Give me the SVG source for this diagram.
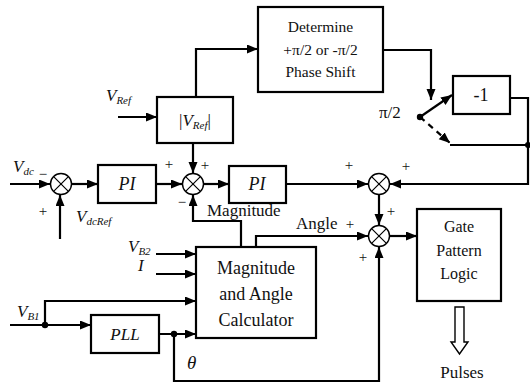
<svg xmlns="http://www.w3.org/2000/svg" width="530" height="388" viewBox="0 0 530 388">
<defs>
<marker id="ah" markerUnits="userSpaceOnUse" markerWidth="12" markerHeight="10" refX="11" refY="4.5" orient="auto">
<path d="M0,0 L11,4.5 L0,9 z" fill="#000"/>
</marker>
<style>
.box{fill:#fff;stroke:#000;stroke-width:2.2}
.sum{fill:#fff;stroke:#000;stroke-width:1.4}
.ln{fill:none;stroke:#000;stroke-width:2.2}
.x{fill:none;stroke:#000;stroke-width:1.2}
.arr{fill:none;stroke:#000;stroke-width:2.2;marker-end:url(#ah)}
text{font-family:'Liberation Serif','DejaVu Serif',serif;fill:#111}
.c{text-anchor:middle}
.i{font-style:italic}
.s{font-size:11px;font-style:italic}
.pm{font-size:15px;text-anchor:middle}
</style>
</defs>
<rect width="530" height="388" fill="#fff"/>

<g id="connectors">
<path class="arr" d="M10,184 H50"/>
<path class="arr" d="M60,239 V195"/>
<path class="arr" d="M72,184 H98"/>
<path class="arr" d="M156,184 H182"/>
<path class="arr" d="M193,143 V173"/>
<path class="arr" d="M118,117 H157"/>
<path class="arr" d="M196,97 V49 H258"/>
<path class="arr" d="M241,247 V221 H193 V195"/>
<path class="arr" d="M204,184 H229"/>
<path class="arr" d="M286,184 H368"/>
<path class="arr" d="M510,98 H528 V184 H390"/>
<path class="ln" d="M528,145 H450"/>
<circle cx="528" cy="145" r="3" fill="#000"/>
<path class="arr" d="M383,50 H431 V100"/>
<path class="arr" d="M420,117 L452,95"/>
<path class="arr" d="M420,117 L450,143" stroke-dasharray="6,5"/>
<circle cx="420" cy="117" r="3.2" fill="#000"/>
<path class="arr" d="M379,195 V225"/>
<path class="arr" d="M256,247 V236 H368"/>
<path class="arr" d="M390,236 H417"/>
<path class="arr" d="M174,334 V381 H379 V247"/>
<path class="arr" d="M156,254 H196"/>
<path class="arr" d="M156,274 H196"/>
<path class="arr" d="M10,325 H91"/>
<path class="arr" d="M45,325 V301 H196"/>
<circle cx="45" cy="325" r="3.2" fill="#000"/>
<path class="arr" d="M159,334 H196"/>
<circle cx="174" cy="334" r="3.2" fill="#000"/>
</g>

<g id="sum1">
<circle class="sum" cx="61" cy="184" r="10.5"/>
<path class="x" d="M53.6,176.6 L68.4,191.4 M68.4,176.6 L53.6,191.4"/>
</g>
<g id="sum2">
<circle class="sum" cx="193" cy="184" r="10.5"/>
<path class="x" d="M185.6,176.6 L200.4,191.4 M200.4,176.6 L185.6,191.4"/>
</g>
<g id="sum3">
<circle class="sum" cx="379" cy="184" r="10.5"/>
<path class="x" d="M371.6,176.6 L386.4,191.4 M386.4,176.6 L371.6,191.4"/>
</g>
<g id="sum4">
<circle class="sum" cx="379" cy="236" r="10.5"/>
<path class="x" d="M371.6,228.6 L386.4,243.4 M386.4,228.6 L371.6,243.4"/>
</g>

<g id="pi1">
<rect class="box" x="98" y="165" width="58" height="38"/>
<text class="c i" x="127" y="190" font-size="18">PI</text>
</g>
<g id="vref-abs">
<rect class="box" x="157" y="97" width="76" height="46"/>
<text class="c" x="195" y="126" font-size="17">|<tspan font-style="italic">V</tspan><tspan class="s" dy="3">Ref</tspan><tspan dy="-3">|</tspan></text>
</g>
<g id="determine">
<rect class="box" x="258" y="7" width="125" height="85"/>
<text class="c" x="320.5" y="32" font-size="15.5">Determine</text>
<text class="c" x="320.5" y="55" font-size="15.5">+π/2 or -π/2</text>
<text class="c" x="320.5" y="77" font-size="15.5">Phase Shift</text>
</g>
<g id="neg1">
<rect class="box" x="453" y="76" width="57" height="38"/>
<text class="c" x="481" y="101" font-size="18">-1</text>
</g>
<g id="pi2">
<rect class="box" x="229" y="166" width="57" height="37"/>
<text class="c i" x="257" y="190" font-size="18">PI</text>
</g>
<g id="calculator">
<rect class="box" x="196" y="247" width="120" height="91"/>
<text class="c" x="256" y="274" font-size="18">Magnitude</text>
<text class="c" x="256" y="300" font-size="18">and Angle</text>
<text class="c" x="256" y="326" font-size="18">Calculator</text>
</g>
<g id="pll">
<rect class="box" x="91" y="315" width="68" height="38"/>
<text class="c i" x="125" y="340" font-size="17">PLL</text>
</g>
<g id="gate">
<rect class="box" x="417" y="209" width="84" height="92"/>
<text class="c" x="459" y="232" font-size="16">Gate</text>
<text class="c" x="459" y="256" font-size="16">Pattern</text>
<text class="c" x="459" y="279" font-size="16">Logic</text>
</g>
<g id="pulses">
<polygon points="455,307 464,307 464,342 468,342 459.5,354 451,342 455,342" fill="#fff" stroke="#000" stroke-width="1.4"/>
<text class="c" x="462" y="378" font-size="17">Pulses</text>
</g>

<g id="labels">
<text class="i" x="13" y="172" font-size="17">V<tspan class="s" dy="3">dc</tspan></text>
<text class="pm" x="43" y="179">−</text>
<text class="pm" x="43" y="216">+</text>
<text class="i" x="76" y="222" font-size="17">V<tspan class="s" dy="3">dcRef</tspan></text>
<text class="i" x="106" y="101" font-size="17">V<tspan class="s" dy="3">Ref</tspan></text>
<text class="pm" x="169" y="169">+</text>
<text class="pm" x="205" y="170">+</text>
<text class="pm" x="182" y="207">−</text>
<text x="207" y="216" font-size="17">Magnitude</text>
<text class="pm" x="349" y="170">+</text>
<text class="pm" x="406" y="171">+</text>
<text class="pm" x="391" y="216">+</text>
<text x="296" y="229" font-size="17">Angle</text>
<text class="pm" x="350" y="229">+</text>
<text class="pm" x="363" y="262">+</text>
<text x="379" y="118" font-size="17">π/2</text>
<text class="i" x="128" y="252" font-size="17">V<tspan class="s" dy="3">B2</tspan></text>
<text class="i" x="138" y="271" font-size="17">I</text>
<text class="i" x="17" y="317" font-size="17">V<tspan class="s" dy="3">B1</tspan></text>
<text class="i" x="187" y="369" font-size="19">θ</text>
</g>
</svg>
